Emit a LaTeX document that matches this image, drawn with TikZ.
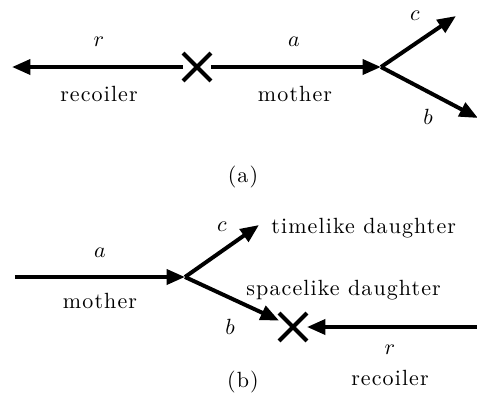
\documentclass[tikz,border=0pt]{standalone}
\usepackage{fontspec}
\setmainfont{Latin Modern Roman}[LetterSpace=5]
\usetikzlibrary{arrows.meta,shapes.misc}
\begin{document}
\begin{tikzpicture}[x=0.4545pt,y=-0.4545pt,
  arr/.style={line width=1.8pt,-{Triangle[length=8.4pt,width=6.8pt]}},
  xmark/.style={cross out,draw,line width=1.8pt,minimum size=10.9pt,inner sep=0pt},
  lbl/.style={inner sep=0pt},
  txt/.style={inner sep=0pt}]
\useasboundingbox (0,0) rectangle (477,399);
% (a)
\node[xmark] (xa) at (197,67) {};
\coordinate (rtipa) at (12,67);
\coordinate (va) at (381,67);
\coordinate (ctipa) at (456,16);
\coordinate (btipa) at (478,118);
\draw[arr] (xa) -- (rtipa);
\draw[arr] (xa) -- (va);
\draw[arr] (va) -- (ctipa);
\draw[arr] (va) -- (btipa);
\node[lbl] (lra) at (99,42) {$r$};
\node[lbl] (laa) at (294,42) {$a$};
\node[txt] (lreca) at (99,94) {recoiler};
\node[txt] (lmota) at (295,94) {mother};
\node[lbl] (lca) at (415,16) {$c$};
\node[lbl] (lba) at (428,117) {$b$};
\node[txt] (capa) at (243,177) {(a)};
% (b)
\coordinate (mstart) at (15,277);
\coordinate (vb) at (185,277);
\coordinate (ctipb) at (259,225);
\coordinate (rstart) at (478,327);
\node[xmark] (xb) at (293,327) {};
\draw[arr] (mstart) -- (vb);
\draw[arr] (vb) -- (ctipb);
\draw[arr] (vb) -- (xb);
\draw[arr] (rstart) -- (xb);
\node[lbl] (lab) at (100,253) {$a$};
\node[txt] (lmotb) at (100,301) {mother};
\node[lbl] (lcb) at (222,227) {$c$};
\node[txt,anchor=west] (ltime) at (271,228) {timelike daughter};
\node[txt,anchor=west] (lspace) at (246,290) {spacelike daughter};
\node[lbl] (lbb) at (230,327) {$b$};
\node[lbl] (lrb) at (390,350) {$r$};
\node[txt] (lrecb) at (390,378) {recoiler};
\node[txt] (capb) at (243,382) {(b)};
\end{tikzpicture}
\end{document}
